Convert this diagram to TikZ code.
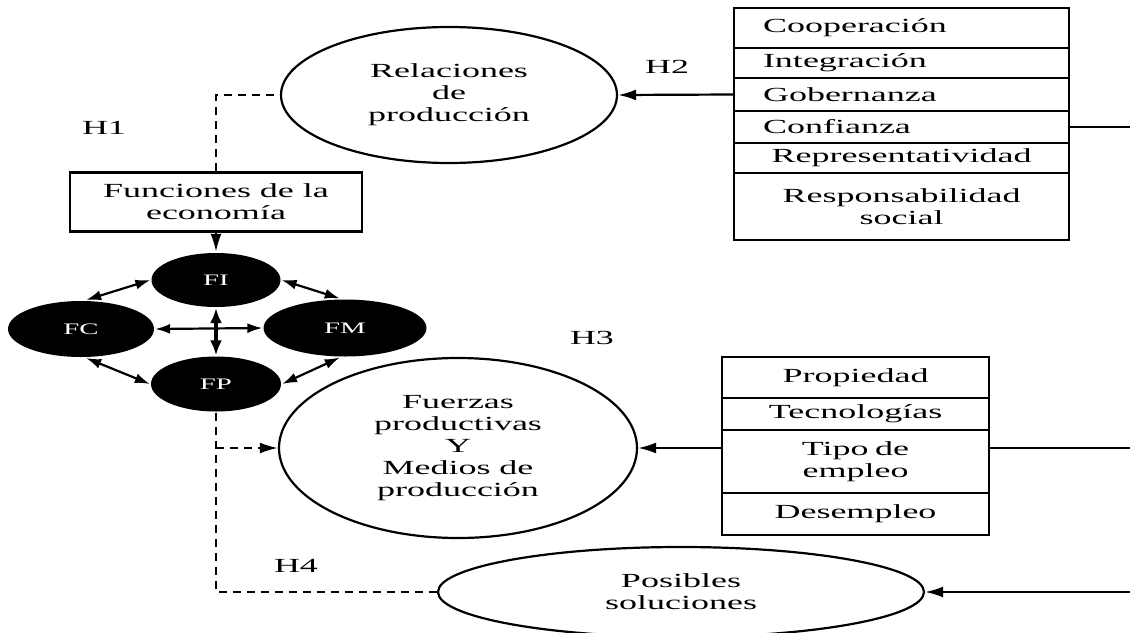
\documentclass[tikz,border=0pt]{standalone}
\usepackage{fontspec}
\setmainfont{Liberation Serif}[FakeStretch=1.8]
\usepackage{tikz}
\usetikzlibrary{shapes.geometric,arrows.meta}

\begin{document}
\begin{tikzpicture}[x=1pt,y=-1pt,>={Latex[length=18pt,width=11pt]},line width=2.2pt,
    lbl/.style={font=\fontsize{20}{22}\selectfont,align=center},
    oval/.style={lbl,draw,ellipse,inner sep=0pt},
    blk/.style={ellipse,fill=black,text=white,inner sep=0pt,
      font=\fontsize{16}{17}\selectfont},
    cell/.style={lbl,draw,inner xsep=29pt,inner ysep=0pt,text width=277pt},
    cellb/.style={lbl,draw,inner xsep=20pt,inner ysep=0pt,text width=227pt},
    dsh/.style={dash pattern=on 8pt off 6pt}]
  \clip (0,0) rectangle (1130,632);
  \fill[white] (0,0) rectangle (1130,632);
  % ovals
  \node[oval,minimum width=336pt,minimum height=136pt] (r) at (449,95)
    {Relaciones\\de\\producción};
  \node[oval,minimum width=358pt,minimum height=180pt] (fz) at (458,448)
    {Fuerzas\\productivas\\Y\\Medios de\\producción};
  \node[oval,minimum width=486pt,minimum height=90pt] (ps) at (681,592)
    {Posibles\\soluciones};
  % funciones
  \node[lbl,draw,minimum width=292pt,minimum height=59pt,inner sep=0pt] (f)
    at (216,202) {Funciones de la\\economía};
  \node[blk,minimum width=129pt,minimum height=54pt] (fi) at (216,280) {FI};
  \node[blk,minimum width=146pt,minimum height=56pt] (fc) at (81,329) {FC};
  \node[blk,minimum width=163pt,minimum height=57pt] (fm) at (345,328) {FM};
  \node[blk,minimum width=130pt,minimum height=55pt] (fp) at (216,384) {FP};
  % table of relaciones
  \node[cell,align=left,minimum height=40pt] (c1) at (901.5,28) {Cooperación};
  \node[cell,align=left,minimum height=30pt] (c2) at (901.5,63) {Integración};
  \node[cell,align=left,minimum height=33pt] (c3) at (901.5,94.5) {Gobernanza};
  \node[cell,align=left,minimum height=32pt] (c4) at (901.5,127) {Confianza};
  \node[cell,minimum height=30pt] (c5) at (901.5,158) {Representatividad};
  \node[cell,minimum height=67pt] (c6) at (901.5,206.5)
    {Responsabilidad\\social};
  % table of fuerzas
  \node[cellb,minimum height=41pt] (p1) at (855.5,377.5) {Propiedad};
  \node[cellb,minimum height=32pt] (p2) at (855.5,414) {Tecnologías};
  \node[cellb,minimum height=63pt] (p3) at (855.5,461.5) {Tipo de\\empleo};
  \node[cellb,minimum height=42pt] (p4) at (855.5,514) {Desempleo};
  % hipotesis
  \node[lbl] (h1) at (104,128) {H1};
  \node[lbl] (h2) at (667,67) {H2};
  \node[lbl] (h3) at (592,338) {H3};
  \node[lbl] (h4) at (296,566) {H4};
  \coordinate (e) at (1130,0);
  \coordinate (d) at (216,448);
  \draw[dsh] (f.north) |- (r.west);
  \draw[->] (f.south) -- (fi.north);
  \draw[<->,>={Latex[length=15pt,width=10pt]}] (fi.west) -- (fc.80);
  \draw[<->,>={Latex[length=15pt,width=10pt]}] (fi.east) -- (fm.100);
  \draw[<->,>={Latex[length=15pt,width=10pt]}] (fc.-80) -- (fp.west);
  \draw[<->,>={Latex[length=15pt,width=10pt]}] (fm.-100) -- (fp.east);
  \draw[<->,>={Latex[length=15pt,width=10pt]}] (fc.east) -- (fm.west);
  \draw[<->,line width=3.2pt,>={Latex[length=15pt,width=12pt]}]
    (fi.south) -- (fp.north);
  \draw[dsh] (fp.south) |- (ps.west);
  \draw[dsh,->] (d) -- (fz.west);
  \draw[->] (c3.west) -- (r.east);
  \draw (c4.east) -- (c4.east -| e);
  \draw[->] (fz.east -| p3.west) -- (fz.east);
  \draw (p3.east |- fz.east) -- (fz.east -| e);
  \draw[->] (ps.east -| e) -- (ps.east);
\end{tikzpicture}
\end{document}
